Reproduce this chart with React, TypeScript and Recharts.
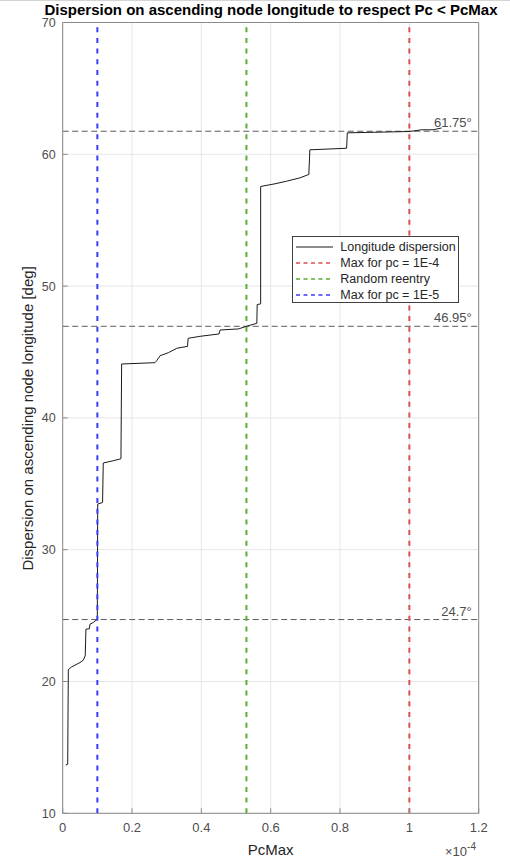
import React from 'react';
import { LineChart, Line, XAxis, YAxis, CartesianGrid, ReferenceLine, Legend, Label } from 'recharts';

// PcMax values, in units of 1e-4
const pcMax = [
  0.0087, 0.0144, 0.0162, 0.026, 0.05, 0.0595, 0.065, 0.067, 0.077, 0.0787, 0.088, 0.0998,
  0.101, 0.115, 0.117, 0.146, 0.165, 0.168, 0.17, 0.266, 0.271, 0.281, 0.305, 0.329, 0.36,
  0.362, 0.396, 0.451, 0.454, 0.507, 0.53, 0.56, 0.561, 0.571, 0.571, 0.612, 0.646, 0.684,
  0.71, 0.713, 0.819, 0.821, 0.915, 1.0, 1.035, 1.069, 1.093,
];
// dispersion on ascending node longitude [deg]
const dispersion = [
  13.67, 13.72, 20.9, 21.11, 21.44, 21.62, 21.95, 23.97, 24.0, 24.35, 24.47, 24.73,
  33.46, 33.58, 36.58, 36.75, 36.88, 36.9, 44.09, 44.19, 44.34, 44.72, 44.95, 45.28, 45.43,
  46.04, 46.19, 46.37, 46.67, 46.75, 46.95, 47.18, 48.6, 48.65, 57.56, 57.76, 57.96, 58.21,
  58.47, 60.34, 60.46, 61.63, 61.68, 61.73, 61.86, 61.86, 62.0,
];

const xTicks = [0, 0.2, 0.4, 0.6, 0.8, 1, 1.2];
const yTicks = [10, 20, 30, 40, 50, 60, 70];

const thresholdX = [1, 0.53, 0.1];
const thresholdNames = ['Max for pc = 1E-4', 'Random reentry', 'Max for pc = 1E-5'];
const thresholdColors = ['#dd4f4f', '#5aaf32', '#3b3bf5'];

const levels = [61.75, 46.95, 24.7];
const levelLabels = ['61.75°', '46.95°', '24.7°'];

const curveName = 'Longitude dispersion';

const rows = pcMax.map((x, i) => ({ x, y: dispersion[i] }));

const AXIS = '#8a8a8a';
const TEXT = '#4d4d4d';
const FONT = '"Liberation Sans", Arial, sans-serif';

function levelLabel(text: string) {
  return (props: any) => {
    const vb = props.viewBox || {};
    return (
      <text x={vb.x + vb.width - 7} y={vb.y - 4} textAnchor="end" fontSize={13} fill={TEXT} fontFamily={FONT}>
        {text}
      </text>
    );
  };
}

function LegendBox() {
  const names = [curveName, ...thresholdNames];
  const colors = ['#1a1a1a', ...thresholdColors];
  return (
    <div
      style={{
        border: '1px solid #404040',
        background: '#fff',
        width: 167,
        height: 67,
        boxSizing: 'border-box',
        padding: '2px 0 0 3px',
        fontFamily: FONT,
        fontSize: 12.5,
        color: '#262626',
      }}
    >
      {names.map((name, i) => (
        <div key={name} style={{ display: 'flex', alignItems: 'center', height: 16 }}>
          <svg width={37} height={4} style={{ display: 'block' }}>
            <line
              x1={0}
              y1={2}
              x2={37}
              y2={2}
              stroke={colors[i]}
              strokeWidth={i === 0 ? 1 : 1.5}
              strokeDasharray={i === 0 ? undefined : '4 3.5'}
            />
          </svg>
          <span style={{ marginLeft: 7, whiteSpace: 'nowrap' }}>{name}</span>
        </div>
      ))}
    </div>
  );
}

export default function App() {
  return (
    <div
      style={{
        position: 'absolute',
        left: 0,
        top: 0,
        width: 510,
        height: 858,
        background: '#fff',
        fontFamily: FONT,
        borderTop: '1px solid #d4d4d4',
        boxSizing: 'border-box',
      }}
    >
      <div
        style={{
          position: 'absolute',
          left: 0,
          top: 2.6,
          width: 542,
          textAlign: 'center',
          fontSize: 15,
          fontWeight: 'bold',
          lineHeight: '12px',
          color: '#000',
          whiteSpace: 'nowrap',
        }}
      >
        Dispersion on ascending node longitude to respect Pc &lt; PcMax
      </div>
      <LineChart
        width={510}
        height={857}
        data={rows}
        margin={{ top: 19.5, right: 29.3, bottom: 14.7, left: 2.7 }}
        style={{ position: 'absolute', left: 0, top: 0 }}
      >
        <CartesianGrid stroke="#e6e6e6" strokeWidth={1} />
        <XAxis
          type="number"
          dataKey="x"
          domain={[0, 1.2]}
          ticks={xTicks}
          interval={0}
          allowDataOverflow
          height={30}
          stroke={AXIS}
          tickSize={-5}
          tickMargin={14}
          tick={{ fill: TEXT, fontSize: 13, fontFamily: FONT }}
          tickFormatter={(v: number) => String(v)}
        >
          <Label
            content={() => (
              <g fontFamily={FONT}>
                <text x={270.7} y={854} textAnchor="middle" fontSize={15} fill="#262626">
                  PcMax
                </text>
                <text x={445} y={855} fontSize={13} fill={TEXT}>
                  ×10
                  <tspan dy={-6} fontSize={10}>
                    -4
                  </tspan>
                </text>
              </g>
            )}
          />
        </XAxis>
        <XAxis
          xAxisId="top"
          orientation="top"
          type="number"
          domain={[0, 1.2]}
          ticks={xTicks}
          interval={0}
          allowDataOverflow
          height={2}
          stroke={AXIS}
          tickSize={-5}
          tick={false}
        />
        <YAxis
          type="number"
          domain={[10, 70]}
          ticks={yTicks}
          interval={0}
          allowDataOverflow
          width={60}
          stroke={AXIS}
          tickSize={-5}
          tickMargin={12}
          tick={{ fill: TEXT, fontSize: 12.5, fontFamily: FONT }}
        >
          <Label
            content={() => (
              <text
                x={28}
                y={417.4}
                transform="rotate(-90 28 417.4)"
                textAnchor="middle"
                dominantBaseline="central"
                fontSize={15}
                fill="#262626"
                fontFamily={FONT}
              >
                Dispersion on ascending node longitude [deg]
              </text>
            )}
          />
        </YAxis>
        <YAxis
          yAxisId="right"
          orientation="right"
          type="number"
          domain={[10, 70]}
          ticks={yTicks}
          interval={0}
          allowDataOverflow
          width={2}
          stroke={AXIS}
          tickSize={-5}
          tick={false}
        />
        {levels.map((v, i) => (
          <ReferenceLine
            key={'lvl' + v}
            y={v}
            stroke="#5c5c5c"
            strokeWidth={1}
            strokeDasharray="6 3.5"
            label={levelLabel(levelLabels[i])}
          />
        ))}
        <Line
          type="linear"
          dataKey="y"
          name={curveName}
          stroke="#1a1a1a"
          strokeWidth={1}
          dot={false}
          isAnimationActive={false}
        />
        {thresholdX.map((v, i) => (
          <ReferenceLine
            key={'thr' + v}
            x={v}
            stroke={thresholdColors[i]}
            strokeWidth={2}
            strokeDasharray="5 5.7"
          />
        ))}
        <Legend
          layout="vertical"
          align="center"
          verticalAlign="middle"
          content={() => <LegendBox />}
          wrapperStyle={{ left: 292.3, top: 235, width: 167, height: 67 }}
        />
      </LineChart>
    </div>
  );
}
